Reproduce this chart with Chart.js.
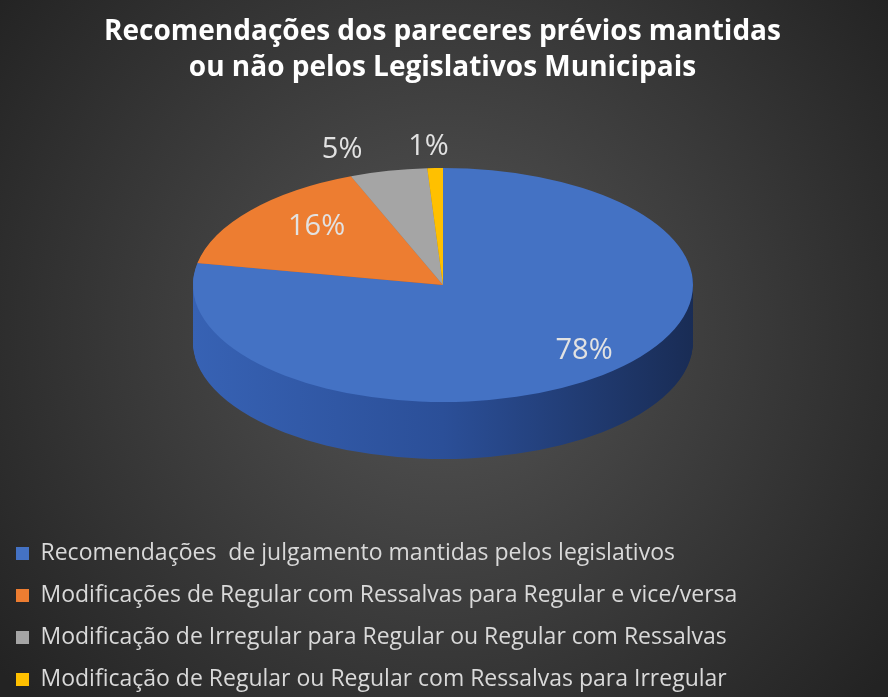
<!DOCTYPE html>
<html>
<head>
<meta charset="utf-8">
<script src="https://cdn.jsdelivr.net/npm/chart.js@4.4.1/dist/chart.umd.min.js"></script>
<style>
html, body { margin: 0; padding: 0; background: #2b2b2b; }
#wrap { width: 888px; height: 697px; }
</style>
</head>
<body>
<div id="wrap"><canvas id="myChart" width="888" height="697"></canvas></div>
<script>
const titleLines = ['Recomendações dos pareceres prévios mantidas', 'ou não pelos Legislativos Municipais'];
const categories = [
	'Recomendações  de julgamento mantidas pelos legislativos',
	'Modificações de Regular com Ressalvas para Regular e vice/versa',
	'Modificação de Irregular para Regular ou Regular com Ressalvas',
	'Modificação de Regular ou Regular com Ressalvas para Irregular'
];
const values = [78, 16, 5, 1];
const colors = ['#4472C4', '#ED7D31', '#A5A5A5', '#FFC000'];
const sideColors = [
	['#3762b4', '#2b4f98', '#192c55'],
	['#c9662a', '#a85520', '#6e3613'],
	['#8c8c8c', '#707070', '#4a4a4a'],
	['#d9a300', '#b38600', '#7a5c00']
];

// where the flat pie ends up on the page (ellipse + thickness)
const PIE_X = 443, PIE_Y = 285, PIE_RX = 250, PIE_RY = 117, PIE_DEPTH = 57;

function squash(chart) {
	const arc = chart.getDatasetMeta(0).data[0];
	const ctx = chart.ctx;
	const r = arc.outerRadius;
	ctx.translate(PIE_X, PIE_Y);
	ctx.scale(PIE_RX / r, PIE_RY / r);
	ctx.translate(-arc.x, -arc.y);
}

const background = {
	id: 'background',
	beforeDraw(chart) {
		const ctx = chart.ctx;
		const g = ctx.createRadialGradient(444, 330, 0, 444, 330, 560);
		g.addColorStop(0, '#555555');
		g.addColorStop(1, '#232323');
		ctx.save();
		ctx.fillStyle = g;
		ctx.fillRect(0, 0, chart.width, chart.height);
		ctx.restore();
	}
};

const pie3d = {
	id: 'pie3d',
	beforeDatasetsDraw(chart) {
		const ctx = chart.ctx;
		const arcs = chart.getDatasetMeta(0).data;
		const r = arcs[0].outerRadius, cx = arcs[0].x;
		for (let d = PIE_DEPTH; d > 0; d--) {
			ctx.save();
			ctx.translate(0, d);
			squash(chart);
			arcs.forEach((a, i) => {
				const g = ctx.createLinearGradient(cx - r, 0, cx + r, 0);
				g.addColorStop(0, sideColors[i][0]);
				g.addColorStop(0.5, sideColors[i][1]);
				g.addColorStop(1, sideColors[i][2]);
				const side = Object.create(a);
				side.options = Object.assign({}, a.options, { backgroundColor: g, borderWidth: 0 });
				a.draw.call(side, ctx);
			});
			ctx.restore();
		}
		ctx.save();
		squash(chart);
	},
	afterDatasetsDraw(chart) {
		const ctx = chart.ctx;
		ctx.restore();
		const arcs = chart.getDatasetMeta(0).data;
		ctx.save();
		ctx.font = '29px "Open Sans"';
		ctx.fillStyle = '#e2e2e2';
		ctx.textAlign = 'center';
		ctx.textBaseline = 'middle';
		arcs.forEach((a, i) => {
			const mid = (a.startAngle + a.endAngle) / 2;
			const outside = values[i] < 10;
			const kx = outside ? 1.85 : 0.76;
			const ky = outside ? 1.2 : 0.75;
			const x = PIE_X + Math.cos(mid) * PIE_RX * kx + (outside ? 0 : 20);
			const y = PIE_Y + Math.sin(mid) * PIE_RY * ky + (outside ? 2 : -2);
			ctx.fillText(values[i] + '%', x, y);
		});
		ctx.restore();
	}
};

const ctx = document.getElementById('myChart').getContext('2d');
const myChart = new Chart(ctx, {
	type: 'pie',
	data: {
		labels: categories,
		datasets: [{
			data: values,
			backgroundColor: colors,
			borderWidth: 0
		}]
	},
	options: {
		responsive: false,
		animation: false,
		events: [],
		layout: {
			padding: { left: -3, right: 0, top: 0, bottom: -4 }
		},
		plugins: {
			tooltip: { enabled: false },
			title: {
				display: true,
				text: titleLines,
				color: '#ffffff',
				font: { family: '"Open Sans"', size: 28, weight: 'bold', lineHeight: 1.29 },
				padding: { top: 14, bottom: 10 }
			},
			legend: {
				position: 'bottom',
				align: 'start',
				labels: {
					color: '#d9d9d9',
					font: { family: '"Open Sans"', size: 23 },
					boxWidth: 13,
					boxHeight: 13,
					padding: 19
				}
			}
		}
	},
	plugins: [background, pie3d]
});
</script>
</body>
</html>
